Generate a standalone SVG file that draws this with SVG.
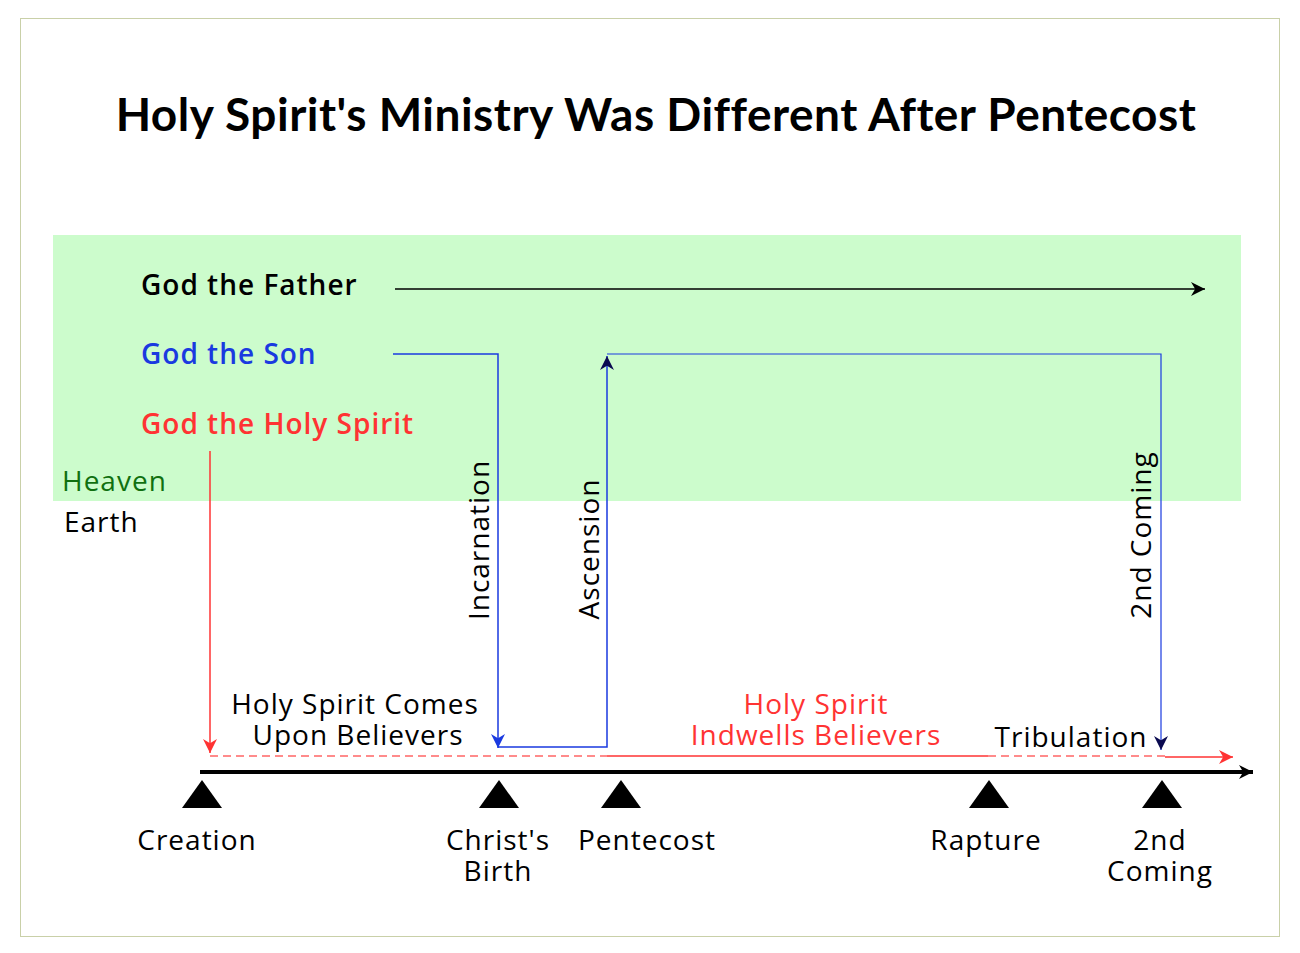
<svg xmlns="http://www.w3.org/2000/svg" width="1300" height="953" viewBox="0 0 1300 953">
<style>
text{font-family:"Open Sans","DejaVu Sans",sans-serif;font-size:28px;fill:#000;letter-spacing:1px}
.c{text-anchor:middle}
.title{font-family:Lato,"Open Sans",sans-serif;font-weight:bold;font-size:46px;letter-spacing:0.5px}
.lbl{font-weight:600}
</style>
<defs>
<marker id="ak" viewBox="0 0 10 10" refX="10" refY="5" markerWidth="22" markerHeight="14" markerUnits="userSpaceOnUse" orient="auto"><path d="M0,0L10,5L0,10L3,5Z" fill="#000"/></marker>
<marker id="ar" viewBox="0 0 10 10" refX="10" refY="5" markerWidth="22" markerHeight="14" markerUnits="userSpaceOnUse" orient="auto"><path d="M0,0L10,5L0,10L3,5Z" fill="#f33"/></marker>
<marker id="ab" viewBox="0 0 10 10" refX="10" refY="5" markerWidth="22" markerHeight="14" markerUnits="userSpaceOnUse" orient="auto"><path d="M0,0L10,5L0,10L3,5Z" fill="#1a3ae0"/></marker>
<marker id="an" viewBox="0 0 10 10" refX="10" refY="5" markerWidth="22" markerHeight="14" markerUnits="userSpaceOnUse" orient="auto"><path d="M0,0L10,5L0,10L3,5Z" fill="#0a0a50"/></marker>
</defs>
<rect x="0" y="0" width="1300" height="953" fill="#fff"/>
<rect x="20.500" y="18.500" width="1259" height="918" fill="#fff" stroke="#c9d0a8"/>
<rect x="53" y="235" width="1188" height="266" fill="#ccfccc"/>
<text class="title c" x="656" y="131">Holy Spirit's Ministry Was Different After Pentecost</text>
<g id="labels">
<text class="lbl" x="141" y="295">God the Father</text>
<text class="lbl" x="141" y="364" style="fill:#1a3ae0">God the Son</text>
<text class="lbl" x="141" y="434" style="fill:#f33">God the Holy Spirit</text>
<text x="62" y="491" style="fill:#107010">Heaven</text>
<text x="64" y="532">Earth</text>
<text class="c" x="355" y="714">Holy Spirit Comes</text>
<text class="c" x="358" y="745">Upon Believers</text>
<text class="c" x="816" y="714" style="fill:#f33">Holy Spirit</text>
<text class="c" x="816" y="745" style="fill:#f33">Indwells Believers</text>
<text class="c" x="1071" y="747">Tribulation</text>
<text transform="translate(489,540) rotate(-90)" class="c">Incarnation</text>
<text transform="translate(599,549) rotate(-90)" class="c">Ascension</text>
<text transform="translate(1151,535) rotate(-90)" class="c">2nd Coming</text>
</g>
<g id="connectors" fill="none">
<line x1="395" y1="289" x2="1205" y2="289" stroke="#000" stroke-width="1.5" marker-end="url(#ak)"/>
<polyline points="393,354 498,354 498,748" stroke="#1a3ae0" stroke-width="1.5" marker-end="url(#ab)"/>
<polyline points="498,747 607,747 607,356" stroke="#1a3ae0" stroke-width="1.5" marker-end="url(#an)"/>
<polyline points="607,354 1161,354 1161,750" stroke="#1a3ae0" stroke-width="1.2" marker-end="url(#an)"/>
<line x1="210" y1="451" x2="210" y2="753" stroke="#f33" stroke-width="1.5" marker-end="url(#ar)"/>
<line x1="210" y1="756" x2="607" y2="756" stroke="#f66" stroke-width="1.5" stroke-dasharray="8,5"/>
<line x1="607" y1="756" x2="988" y2="756" stroke="#f33" stroke-width="1.5"/>
<line x1="988" y1="756" x2="1165" y2="756" stroke="#f66" stroke-width="1.5" stroke-dasharray="8,5"/>
<line x1="1165" y1="757" x2="1233" y2="757" stroke="#f33" stroke-width="1.5" marker-end="url(#ar)"/>
<line x1="200" y1="772" x2="1253" y2="772" stroke="#000" stroke-width="4" marker-end="url(#ak)"/>
</g>
<g id="events">
<polygon points="202,780 222,808 182,808"/><text class="c" x="197" y="850">Creation</text>
<polygon points="499,780 519,808 479,808"/><text class="c" x="498" y="850">Christ's</text><text class="c" x="498" y="881">Birth</text>
<polygon points="621,780 641,808 601,808"/><text class="c" x="647" y="850">Pentecost</text>
<polygon points="989,780 1009,808 969,808"/><text class="c" x="986" y="850">Rapture</text>
<polygon points="1162,780 1182,808 1142,808"/><text class="c" x="1160" y="850">2nd</text><text class="c" x="1160" y="881">Coming</text>
</g>
</svg>
